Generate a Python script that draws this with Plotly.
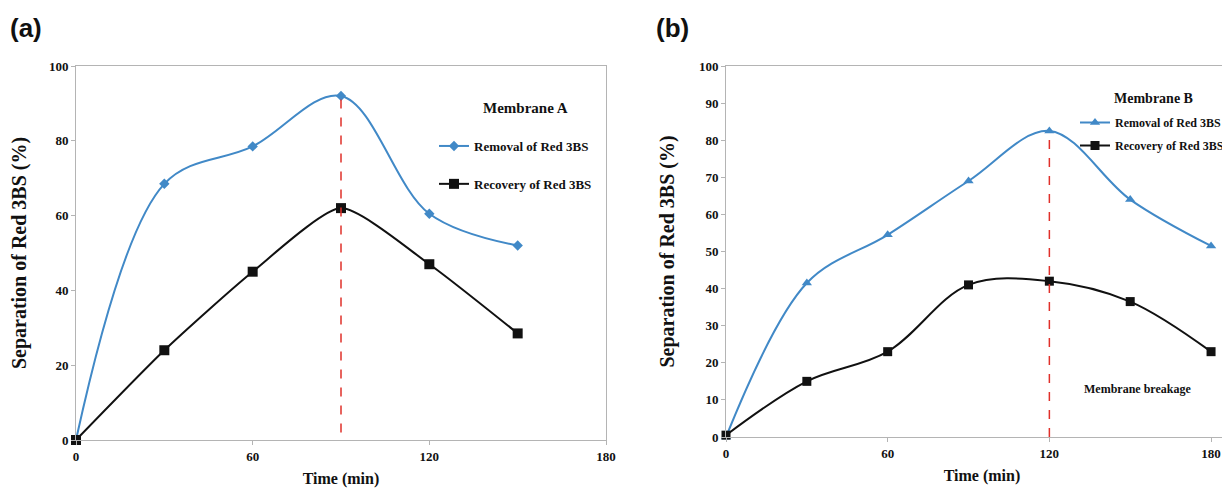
import plotly.graph_objects as go

# ---------------- data ----------------
time_a = [0, 30, 60, 90, 120, 150]
removal_a = [0, 68.5, 78.5, 92, 60.5, 52]
recovery_a = [0, 24, 45, 62, 47, 28.5]
marker_line_a_x = [90, 90]
marker_line_a_y = [2, 92]

time_b = [0, 30, 60, 90, 120, 150, 180]
removal_b = [0, 41.5, 54.5, 69, 82.5, 64, 51.5]
recovery_b = [0.5, 15, 23, 41, 42, 36.5, 23]
marker_line_b_x = [120, 120]
marker_line_b_y = [0, 82]

x_ticks = [0, 60, 120, 180]
y_ticks_a = [0, 20, 40, 60, 80, 100]
y_ticks_b = [0, 10, 20, 30, 40, 50, 60, 70, 80, 90, 100]

series_names = ["Removal of Red 3BS", "Recovery of Red 3BS"]

BLUE = "#4189C7"
BLACK = "#111111"
RED = "#E0302A"
SERIF = "Liberation Serif, Times New Roman, serif"
SANS = "Liberation Sans, Arial, sans-serif"

W, H = 1230, 494
OFF = 8  # page body margin offset


def px_x(p):
    return (p - OFF) / W


def px_y(p):
    return 1 - (p - OFF) / H


fig = go.Figure()

# ---- panel (a) ----
fig.add_trace(go.Scatter(x=time_a, y=removal_a, mode="lines+markers", name=series_names[0],
                         line=dict(color=BLUE, width=2, shape="spline", smoothing=1),
                         marker=dict(symbol="diamond", size=8, color=BLUE),
                         xaxis="x", yaxis="y", legend="legend", legendgroup="a1", cliponaxis=False))
fig.add_trace(go.Scatter(x=time_a, y=recovery_a, mode="lines+markers", name=series_names[1],
                         line=dict(color=BLACK, width=2, shape="spline", smoothing=0.6),
                         marker=dict(symbol="square", size=10, color=BLACK),
                         xaxis="x", yaxis="y", legend="legend", legendgroup="a2", cliponaxis=False))
fig.add_trace(go.Scatter(x=marker_line_a_x, y=marker_line_a_y, mode="lines", showlegend=False,
                         line=dict(color=RED, width=1.5, dash="dash"), xaxis="x", yaxis="y"))

# ---- panel (b) ----
fig.add_trace(go.Scatter(x=time_b, y=removal_b, mode="lines+markers", name=series_names[0],
                         line=dict(color=BLUE, width=2, shape="spline", smoothing=1),
                         marker=dict(symbol="triangle-up", size=9, color=BLUE),
                         xaxis="x2", yaxis="y2", legend="legend2", legendgroup="b1", cliponaxis=False))
fig.add_trace(go.Scatter(x=time_b, y=recovery_b, mode="lines+markers", name=series_names[1],
                         line=dict(color=BLACK, width=2, shape="spline", smoothing=1),
                         marker=dict(symbol="square", size=9, color=BLACK),
                         xaxis="x2", yaxis="y2", legend="legend2", legendgroup="b2", cliponaxis=False))
fig.add_trace(go.Scatter(x=marker_line_b_x, y=marker_line_b_y, mode="lines", showlegend=False,
                         line=dict(color=RED, width=1.5, dash="dash"), xaxis="x2", yaxis="y2"))

axis_common = dict(showgrid=False, zeroline=False, showline=True, linecolor="#B4B4B4", linewidth=1,
                   mirror=True, ticks="outside", ticklen=4, tickcolor="#B4B4B4", automargin=False,
                   tickfont=dict(family=SERIF, size=13, color="#111", weight="bold"))
xtitle_font = dict(family=SERIF, size=16, color="#111", weight="bold")
ytitle_font = dict(family=SERIF, size=20, color="#111", weight="bold")

fig.update_layout(
    width=W, height=H,
    margin=dict(l=0, r=0, t=0, b=0, autoexpand=False),
    paper_bgcolor="white", plot_bgcolor="white",
    xaxis=dict(domain=[px_x(76), px_x(606)], range=[0, 180], tickvals=x_ticks,
               title=dict(text="Time (min)", standoff=10, font=xtitle_font), anchor="y", **axis_common),
    yaxis=dict(domain=[px_y(440), px_y(66)], range=[0, 100], tickvals=y_ticks_a,
               title=dict(text="Separation of Red 3BS (%)", standoff=18, font=ytitle_font),
               anchor="x", **axis_common),
    xaxis2=dict(domain=[px_x(726), 1.0], range=[0, 190], tickvals=x_ticks,
                title=dict(text="Time (min)", standoff=10, font=xtitle_font), anchor="y2", **axis_common),
    yaxis2=dict(domain=[px_y(437), px_y(66)], range=[0, 100], tickvals=y_ticks_b,
                title=dict(text="Separation of Red 3BS (%)", standoff=18, font=ytitle_font),
                anchor="x2", **axis_common),
    legend=dict(x=px_x(434), y=px_y(131), xanchor="left", yanchor="top",
                bgcolor="rgba(0,0,0,0)", borderwidth=0, tracegroupgap=18,
                font=dict(family=SERIF, size=13, color="#111", weight="bold")),
    legend2=dict(x=px_x(1075), y=px_y(108), xanchor="left", yanchor="top",
                 bgcolor="rgba(0,0,0,0)", borderwidth=0, tracegroupgap=4,
                 font=dict(family=SERIF, size=12, color="#111", weight="bold")),
    showlegend=True,
)

annotations = [
    dict(text="<b>(a)</b>", x=px_x(8), y=px_y(28), xref="paper", yref="paper", xanchor="left",
         yanchor="middle", showarrow=False, font=dict(family=SANS, size=26, color="#111")),
    dict(text="<b>(b)</b>", x=px_x(654), y=px_y(28), xref="paper", yref="paper", xanchor="left",
         yanchor="middle", showarrow=False, font=dict(family=SANS, size=26, color="#111")),
    dict(text="<b>Membrane A</b>", x=px_x(525), y=px_y(108), xref="paper", yref="paper",
         xanchor="center", yanchor="middle", showarrow=False, font=dict(family=SERIF, size=15, color="#111")),
    dict(text="<b>Membrane B</b>", x=px_x(1153), y=px_y(98), xref="paper", yref="paper",
         xanchor="center", yanchor="middle", showarrow=False, font=dict(family=SERIF, size=14, color="#111")),
    dict(text="<b>Membrane breakage</b>", x=px_x(1137), y=px_y(389), xref="paper", yref="paper",
         xanchor="center", yanchor="middle", showarrow=False, font=dict(family=SERIF, size=12, color="#111")),
]
fig.update_layout(annotations=annotations)

fig.write_html("out.html")
